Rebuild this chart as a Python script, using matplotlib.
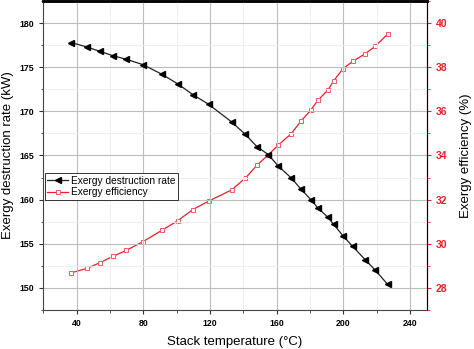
import numpy as np
import matplotlib
matplotlib.use("Agg")
from matplotlib import pyplot as plt
from matplotlib.ticker import MultipleLocator

plt.rcParams['font.family'] = ['Liberation Sans', 'DejaVu Sans']

# stack temperature (C)
temp = [36.7, 46.1, 53.9, 61.9, 69.8, 79.7, 91.2, 100.8, 109.7, 119.2, 133.0,
        141.2, 148.2, 155.0, 161.0, 168.5, 174.6, 180.5, 185.0, 190.8, 194.2,
        199.8, 205.6, 213.1, 219.2, 226.6]

# exergy destruction rate (kW)
destruction = [177.8, 177.3, 176.8, 176.3, 175.9, 175.3, 174.2, 173.1, 171.9,
               170.8, 168.8, 167.4, 166.0, 165.1, 163.8, 162.5, 161.2, 160.0,
               159.0, 158.0, 157.2, 155.9, 154.7, 153.2, 152.0, 150.4]

# exergy efficiency (%)
efficiency = [28.68, 28.88, 29.14, 29.43, 29.70, 30.09, 30.61, 31.05, 31.55,
              31.93, 32.44, 32.97, 33.56, 34.03, 34.47, 34.97, 35.55, 36.06,
              36.52, 36.97, 37.38, 37.93, 38.26, 38.61, 38.95, 39.50]

red = '#e8202a'

fig = plt.figure(figsize=(4.74, 3.49), dpi=100)
ax = fig.add_axes([0.0914, 0.112, 0.8086, 0.885])
ax2 = ax.twinx()

l1, = ax.plot(temp, destruction, color='#222222', lw=0.9, marker='<',
              ms=3.8, mfc='black', mec='black', label='Exergy destruction rate')
l2, = ax2.plot(temp, efficiency, color=red, lw=0.9, marker='s', ms=3.4,
               mfc='white', mec='#ec5a62', mew=0.7, label='Exergy efficiency')

ax.set_xlim(20, 250)
ax.set_ylim(147.5, 182.5)
ax2.set_ylim(27, 41)

ax.xaxis.set_major_locator(MultipleLocator(40))
ax.xaxis.set_minor_locator(MultipleLocator(20))
ax.yaxis.set_major_locator(MultipleLocator(5))
ax.yaxis.set_minor_locator(MultipleLocator(2.5))
ax2.yaxis.set_major_locator(MultipleLocator(2))
ax2.yaxis.set_minor_locator(MultipleLocator(1))

ax.grid(True, which='major', color='#bdbdbd', lw=0.8)
ax.grid(True, which='minor', color='#ececec', lw=0.6)
ax.set_axisbelow(True)

ax.tick_params(axis='both', which='major', direction='out', length=3,
               width=0.8, labelsize=6.3, colors='#333333', labelcolor='black')
ax.tick_params(axis='both', which='minor', direction='out', length=1.8,
               width=0.6, colors='#333333')
ax.tick_params(axis='x', which='both', top=True)
for lab in ax.get_xticklabels() + ax.get_yticklabels():
    lab.set_fontweight('bold')

ax2.tick_params(axis='y', which='major', direction='out', length=3, width=0.8,
                labelsize=7.5, colors=red)
ax2.tick_params(axis='y', which='minor', direction='out', length=1.8,
                width=0.6, colors=red)
for lab in ax2.get_yticklabels():
    lab.set_fontweight('bold')

ax.spines['left'].set_color('#444444')
ax.spines['bottom'].set_color('#444444')
ax.spines['top'].set_linewidth(1.8)
ax2.spines['top'].set_linewidth(1.8)
ax2.spines['right'].set_color(red)
ax2.spines['left'].set_visible(False)
ax2.spines['bottom'].set_visible(False)

ax.set_xlabel('Stack temperature (°C)', fontsize=9.5, labelpad=6)
ax.set_ylabel('Exergy destruction rate (kW)', fontsize=9.5, labelpad=4)
ax2.set_ylabel('Exergy efficiency (%)', fontsize=9.5, labelpad=9)

leg = ax.legend(handles=[l1, l2], loc='upper left', bbox_to_anchor=(0.004, 0.443),
                borderaxespad=0, fontsize=7.3, handlelength=2.0, handletextpad=0.3,
                borderpad=0.25, labelspacing=0.15, fancybox=False,
                edgecolor='#333333', framealpha=1)
leg.get_frame().set_linewidth(0.7)
ax.set_zorder(ax2.get_zorder() + 1)
ax.patch.set_visible(False)

fig.savefig('out.png', dpi=100)
